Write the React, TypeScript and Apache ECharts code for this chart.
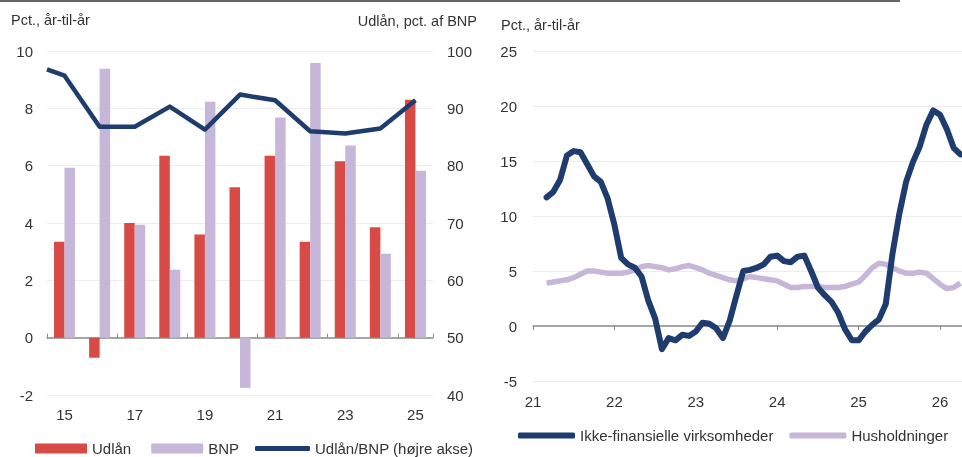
import React, { useEffect, useRef } from "react";
import * as echarts from "echarts";

// Left panel: annual growth (pct., år-til-år)
const years = ["15", "16", "17", "18", "19", "20", "21", "22", "23", "24", "25"];
const udlaan = [3.35, -0.7, 4.0, 6.35, 3.6, 5.25, 6.35, 3.35, 6.15, 3.85, 8.3];
const bnp = [5.93, 9.38, 3.94, 2.37, 8.23, -1.75, 7.68, 9.58, 6.7, 2.93, 5.82];
// Udlån/BNP (right axis), year positions
const ratioYears = [14.5, 15, 16, 17, 18, 19, 20, 21, 22, 23, 24, 25];
const ratio = [96.8, 95.7, 86.8, 86.8, 90.3, 86.3, 92.4, 91.4, 86.0, 85.6, 86.5, 91.4];

// Right panel: monthly, starting March 2021 (month index 2 from Jan 2021)
const startMonthIndex = 2;
const ikkeFin = [
  11.7, 12.2, 13.3, 15.5, 15.9, 15.8, 14.7, 13.6, 13.1, 11.6, 9.2, 6.2,
  5.6, 5.3, 4.5, 2.3, 0.7, -2.1, -1.1, -1.3, -0.8, -0.9, -0.5, 0.3,
  0.2, -0.2, -1.1, 0.5, 2.8, 5.0, 5.1, 5.3, 5.6, 6.3, 6.4, 5.9,
  5.8, 6.3, 6.4, 5.0, 3.5, 2.8, 2.2, 1.2, -0.3, -1.3, -1.3, -0.5,
  0.1, 0.6, 2.0, 6.6, 10.2, 13.1, 14.9, 16.3, 18.3, 19.6, 19.2, 17.9,
  16.2, 15.6,
];
const husholdninger = [
  3.9, 4.0, 4.1, 4.2, 4.4, 4.7, 5.0, 5.0, 4.9, 4.8, 4.8, 4.8,
  4.9, 5.1, 5.4, 5.5, 5.4, 5.3, 5.1, 5.2, 5.4, 5.5, 5.3, 5.1,
  4.8, 4.6, 4.4, 4.2, 4.1, 4.3, 4.5, 4.4, 4.3, 4.2, 4.1, 3.8,
  3.5, 3.5, 3.6, 3.6, 3.6, 3.5, 3.5, 3.5, 3.6, 3.8, 4.0, 4.6,
  5.3, 5.7, 5.6, 5.3, 5.0, 4.8, 4.8, 4.9, 4.8, 4.3, 3.8, 3.4,
  3.5, 3.9,
];

const RED = "#d84a45";
const LAV = "#c6b6d8";
const NAVY = "#1e3c6e";
const TXT = "#333333";
const FONT = "Liberation Sans";

export default function App() {
  const ref = useRef<HTMLDivElement>(null);
  useEffect(() => {
    if (!ref.current) return;
    const chart = echarts.init(ref.current, undefined, { renderer: "svg" });
    const toX = (i: number) => 21 + (startMonthIndex + i) / 12;
    const option: any = {
      animation: false,
      textStyle: { fontFamily: FONT, color: TXT },
      grid: [
        { left: 47, right: 529, top: 51, bottom: 62 },
        { left: 533, right: 0, top: 51, bottom: 76 },
      ],
      xAxis: [
        {
          type: "category",
          gridIndex: 0,
          data: years,
          axisLine: { show: false },
          axisTick: { show: false },
          axisLabel: { interval: 1, fontSize: 15, color: TXT, margin: 12, fontFamily: FONT },
        },
        {
          type: "category",
          gridIndex: 0,
          data: years,
          axisLine: { show: true, onZero: true, onZeroAxisIndex: 0, lineStyle: { color: "#8a8a8a", width: 1.5 } },
          axisTick: { show: true, interval: 1, length: 4, lineStyle: { color: "#8a8a8a" } },
          axisLabel: { show: false },
        },
        {
          type: "value",
          gridIndex: 0,
          min: 14.5,
          max: 25.5,
          show: false,
        },
        {
          type: "value",
          gridIndex: 1,
          min: 21,
          max: 26.27,
          interval: 1,
          splitLine: { show: false },
          axisLine: { show: true, lineStyle: { color: "#8a8a8a", width: 1.5 } },
          axisTick: { show: true, length: 4, lineStyle: { color: "#8a8a8a" } },
          axisLabel: {
            fontSize: 15,
            color: TXT,
            margin: 13,
            fontFamily: FONT,
            showMaxLabel: false,
            formatter: (v: number) => (Math.abs(v - Math.round(v)) < 1e-6 ? String(Math.round(v)) : ""),
          },
        },
      ],
      yAxis: [
        {
          type: "value",
          gridIndex: 0,
          min: -2,
          max: 10,
          interval: 2,
          axisLine: { show: false },
          axisTick: { show: false },
          axisLabel: { fontSize: 15, color: TXT, margin: 14, fontFamily: FONT },
          splitLine: { lineStyle: { color: "#ececec", width: 1 } },
        },
        {
          type: "value",
          gridIndex: 0,
          position: "right",
          min: 40,
          max: 100,
          interval: 10,
          axisLine: { show: false },
          axisTick: { show: false },
          axisLabel: { fontSize: 15, color: TXT, margin: 14, fontFamily: FONT },
          splitLine: { show: false },
        },
        {
          type: "value",
          gridIndex: 1,
          min: -5,
          max: 25,
          interval: 5,
          axisLine: { show: false },
          axisTick: { show: false },
          axisLabel: { fontSize: 15, color: TXT, margin: 16, fontFamily: FONT },
          splitLine: { lineStyle: { color: "#ececec", width: 1 } },
        },
      ],
      legend: [
        {
          left: 30,
          top: 436,
          itemWidth: 52,
          itemHeight: 10,
          itemGap: 20,
          icon: "rect",
          textStyle: { fontSize: 15, color: TXT, fontFamily: FONT },
          data: ["Udlån", "BNP"],
        },
        {
          left: 250,
          top: 436,
          itemWidth: 55,
          itemHeight: 5,
          icon: "roundRect",
          textStyle: { fontSize: 15, color: TXT, fontFamily: FONT },
          data: ["Udlån/BNP (højre akse)"],
        },
        {
          left: 513,
          top: 423,
          itemWidth: 57,
          itemHeight: 6,
          itemGap: 16,
          icon: "roundRect",
          textStyle: { fontSize: 15, color: TXT, fontFamily: FONT },
          data: ["Ikke-finansielle virksomheder", "Husholdninger"],
        },
      ],
      series: [
        {
          name: "Udlån",
          type: "bar",
          xAxisIndex: 0,
          yAxisIndex: 0,
          data: udlaan,
          barWidth: 10.5,
          barGap: "0%",
          itemStyle: { color: RED },
        },
        {
          name: "BNP",
          type: "bar",
          xAxisIndex: 0,
          yAxisIndex: 0,
          data: bnp,
          barWidth: 10.5,
          barGap: "0%",
          itemStyle: { color: LAV },
        },
        {
          name: "Udlån/BNP (højre akse)",
          type: "line",
          xAxisIndex: 2,
          yAxisIndex: 1,
          data: ratioYears.map((x, i) => [x, ratio[i]]),
          symbol: "none",
          lineStyle: { color: NAVY, width: 4.5, join: "round" },
          itemStyle: { color: NAVY },
          z: 5,
        },
        {
          name: "Husholdninger",
          type: "line",
          xAxisIndex: 3,
          yAxisIndex: 2,
          data: husholdninger.map((v, i) => [toX(i), v]),
          symbol: "none",
          lineStyle: { color: LAV, width: 5.5, join: "round" },
          itemStyle: { color: LAV },
          z: 3,
        },
        {
          name: "Ikke-finansielle virksomheder",
          type: "line",
          xAxisIndex: 3,
          yAxisIndex: 2,
          data: ikkeFin.map((v, i) => [toX(i), v]),
          symbol: "none",
          lineStyle: { color: NAVY, width: 6, join: "round", cap: "round" },
          itemStyle: { color: NAVY },
          z: 4,
        },
      ],
      graphic: [
        { type: "line", shape: { x1: 0, y1: 1, x2: 900, y2: 1 }, style: { stroke: "#666", lineWidth: 2 } },
        {
          type: "text",
          x: 11,
          y: 20,
          style: { text: "Pct., år-til-år", fontSize: 14.5, fill: TXT, fontFamily: FONT, textVerticalAlign: "middle" },
        },
        {
          type: "text",
          x: 477,
          y: 21,
          style: { text: "Udlån, pct. af BNP", fontSize: 14.5, fill: TXT, fontFamily: FONT, textAlign: "right", textVerticalAlign: "middle" },
        },
        {
          type: "text",
          x: 501,
          y: 25,
          style: { text: "Pct., år-til-år", fontSize: 14.5, fill: TXT, fontFamily: FONT, textVerticalAlign: "middle" },
        },
      ],
    };
    chart.setOption(option);
    return () => chart.dispose();
  }, []);
  return <div ref={ref} style={{ position: "fixed", left: 0, top: 0, width: 962, height: 457 }} />;
}
